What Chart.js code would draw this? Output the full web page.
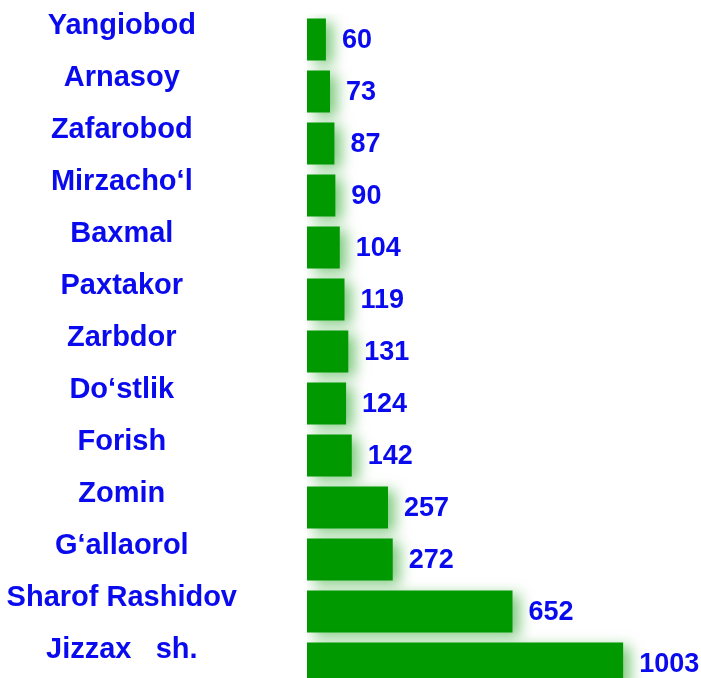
<!DOCTYPE html>
<html lang="en">
<head>
    <meta charset="UTF-8">
    <title>Tumanlar</title>
    <script src="https://cdn.jsdelivr.net/npm/chart.js"></script>
    <style>
        html, body {
            margin: 0;
            padding: 0;
            background: #ffffff;
            overflow: hidden;
        }
        .container {
            width: 701px;
            height: 704px;
            position: relative;
        }
    </style>
</head>
<body>
    <div class="container">
        <canvas id="barChart"></canvas>
    </div>

    <script>
        const districts = ['Yangiobod', 'Arnasoy', 'Zafarobod', 'Mirzacho\u2018l', 'Baxmal', 'Paxtakor', 'Zarbdor',
            'Do\u2018stlik', 'Forish', 'Zomin', 'G\u2018allaorol', 'Sharof Rashidov', 'Jizzax   sh.'];
        const counts = [60, 73, 87, 90, 104, 119, 131, 124, 142, 257, 272, 652, 1003];

        const textBlue = '#0a0aee';
        const barGreen = '#009900';
        const fontFamily = 'Arial, "Liberation Sans", sans-serif';

        // glow behind the bars + numbers at the bar ends
        const glowAndValues = {
            id: 'glowAndValues',
            beforeDatasetsDraw(chart) {
                const ctx = chart.ctx;
                ctx.save();
                ctx.shadowColor = 'rgba(0, 150, 0, 0.5)';
                ctx.shadowBlur = 14;
                ctx.shadowOffsetX = 7;
                ctx.shadowOffsetY = 4;
            },
            afterDatasetsDraw(chart) {
                const ctx = chart.ctx;
                ctx.restore();
                ctx.save();
                ctx.fillStyle = textBlue;
                ctx.font = `bold 27px ${fontFamily}`;
                ctx.textAlign = 'left';
                ctx.textBaseline = 'middle';
                chart.getDatasetMeta(0).data.forEach((bar, i) => {
                    ctx.fillText(String(counts[i]), bar.x + 16, bar.y + 1);
                });
                ctx.restore();
            }
        };

        new Chart(document.getElementById('barChart'), {
            type: 'bar',
            data: {
                labels: districts,
                datasets: [{
                    data: counts,
                    backgroundColor: barGreen,
                    borderWidth: 0,
                    barPercentage: 0.81,
                    categoryPercentage: 1
                }]
            },
            options: {
                indexAxis: 'y',
                responsive: true,
                maintainAspectRatio: false,
                animation: false,
                layout: {
                    padding: { top: 13.5, bottom: 14.5, left: 0, right: 0 }
                },
                plugins: {
                    legend: { display: false },
                    tooltip: { enabled: false }
                },
                scales: {
                    x: {
                        display: false,
                        min: 0,
                        max: 1250
                    },
                    y: {
                        grid: {
                            display: true,
                            drawOnChartArea: false,
                            drawTicks: true,
                            tickLength: 70,
                            color: 'rgba(0,0,0,0)'
                        },
                        border: { display: false },
                        afterFit(scale) {
                            scale.width = 307;
                        },
                        ticks: {
                            color: textBlue,
                            font: { family: fontFamily, size: 29, weight: 'bold', lineHeight: 0.9 },
                            crossAlign: 'center',
                            padding: 0,
                            labelOffset: -14,
                            autoSkip: false
                        }
                    }
                }
            },
            plugins: [glowAndValues]
        });
    </script>
</body>
</html>
